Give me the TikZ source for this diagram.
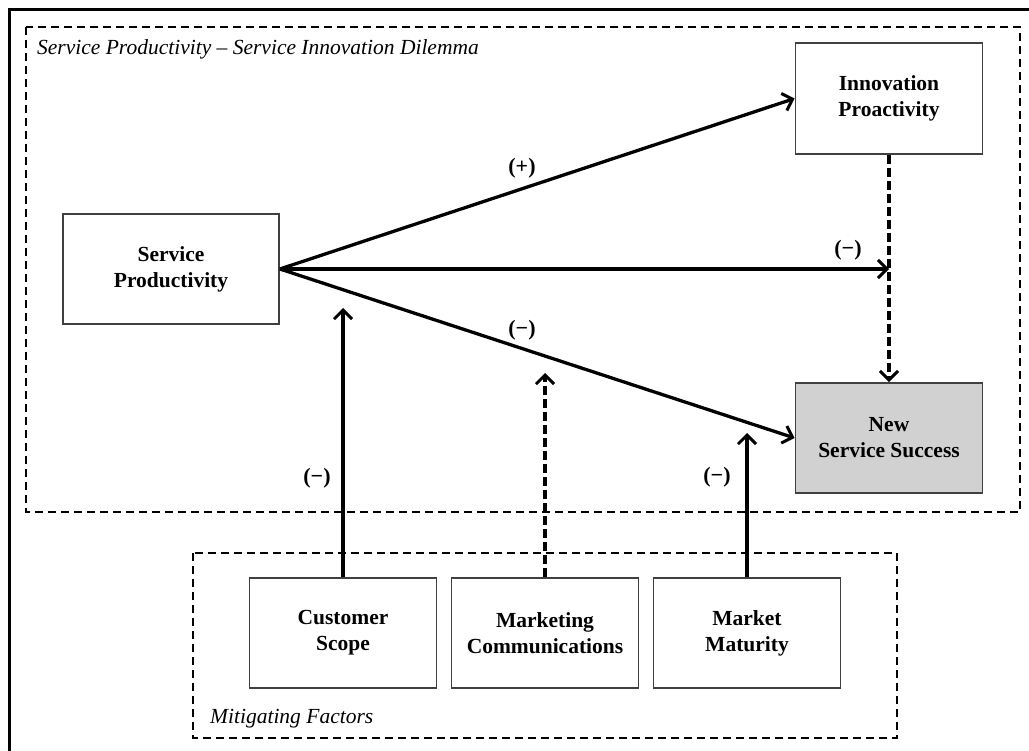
\documentclass[tikz,border=0pt]{standalone}
\usepackage{fontspec}
\setmainfont{Liberation Serif}
\usetikzlibrary{arrows.meta}
\begin{document}
\begin{tikzpicture}[x=1pt,y=-1pt,
 box/.style={draw=black!75, line width=1.8pt, align=center, font=\fontsize{21.5}{26}\selectfont\bfseries, inner sep=0pt, minimum width=187pt, minimum height=110pt},
 grp/.style={line width=2.3pt, dash pattern=on 8pt off 5pt},
 arr/.style={line width=3.3pt, -{Straight Barb[length=9pt,width=18pt,line width=3pt]}},
 darr/.style={arr, dash pattern=on 9pt off 4pt},
 lbl/.style={font=\fontsize{22}{26}\selectfont\bfseries, inner sep=0pt},
 ttl/.style={font=\fontsize{21.5}{26}\selectfont\itshape, inner sep=0pt, anchor=base west}]
\useasboundingbox (0,0) rectangle (1029,751);
\draw[line width=3pt] (9,751) -- (9,10) -- (1029,10);
% groups
\draw[grp] (26,27) rectangle (1020,512);
\draw[grp] (193,553) rectangle (897,738);
\node[ttl] (t1) at (37,55) {Service Productivity – Service Innovation Dilemma};
\node[ttl] (t2) at (210,723) {Mitigating Factors};
% boxes
\node[box, minimum width=216pt] (sp) at (171,269) {Service\\Productivity};
\node[box, minimum height=111pt] (ip) at (889,98.5) {Innovation\\Proactivity};
\node[box, fill=black!18] (nss) at (889,438) {New\\Service Success};
\node[box] (cs) at (343,633) {Customer\\Scope};
\node[box] (mc) at (545,633) {Marketing\\Communications};
\node[box] (mm) at (747,633) {Market\\Maturity};
% junctions
\coordinate (j) at (ip.south |- sp.east);
\coordinate (c1) at (343,308);
\coordinate (c2) at (545,373);
\coordinate (c3) at (747,433);
% arrows
\draw[arr] (sp.east) -- (ip.west);
\draw[arr] (sp.east) -- (j);
\draw[arr] (sp.east) -- (nss.west);
\draw[darr] (ip.south) -- (nss.north);
\draw[arr] (cs.north) -- (c1);
\draw[darr] (mc.north) -- (c2);
\draw[arr] (mm.north) -- (c3);
% labels
\node[lbl] (l1) at (522,168) {(+)};
\node[lbl] (l2) at (848,250) {(−)};
\node[lbl] (l3) at (522,330) {(−)};
\node[lbl] (l4) at (317,478) {(−)};
\node[lbl] (l5) at (717,477) {(−)};
\end{tikzpicture}
\end{document}
